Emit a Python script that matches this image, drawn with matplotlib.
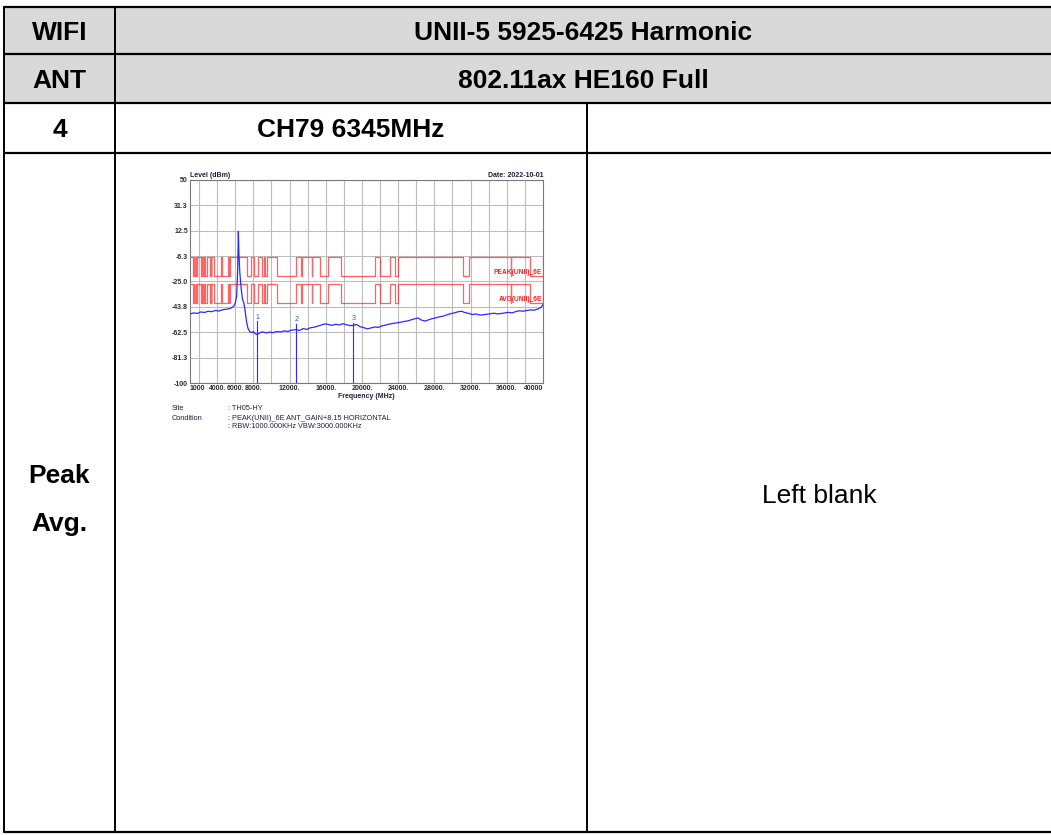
import matplotlib
matplotlib.use("Agg")
import matplotlib.pyplot as plt
from matplotlib.patches import Rectangle

plt.rcParams['font.family'] = ['Liberation Sans', 'DejaVu Sans']

# -----------------------------
# Table text
# -----------------------------
row_labels = ["WIFI", "ANT", "4"]
row_values = ["UNII-5 5925-6425 Harmonic", "802.11ax HE160 Full", "CH79 6345MHz"]
mode_labels = ["Peak", "Avg."]
right_note = "Left blank"

# -----------------------------
# Spectrum data (MHz, dBm)
# -----------------------------
freq = [1000, 1400, 1800, 2200, 2600, 3000, 3400, 3800, 4200, 4600, 5000, 5400,
        5800, 6000, 6150, 6250, 6300, 6345, 6400, 6500, 6650, 6800, 6950, 7100,
        7250, 7400, 7600, 7800, 8000, 8200, 8430, 8700, 9000, 9400, 9800, 10200,
        10600, 11000, 11400, 11800, 12200, 12745, 13100, 13500, 13900, 14300,
        14700, 15100, 15500, 15900, 16300, 16700, 17100, 17500, 17900, 18300,
        18700, 19040, 19400, 19800, 20200, 20600, 21000, 21400, 21800, 22200,
        22600, 23000, 23400, 23800, 24200, 24600, 25000, 25400, 25800, 26200,
        26600, 27000, 27400, 27800, 28200, 28600, 29000, 29400, 29800, 30200,
        30600, 31000, 31400, 31800, 32200, 32600, 33000, 33400, 33800, 34200,
        34600, 35000, 35400, 35800, 36200, 36600, 37000, 37400, 37800, 38200,
        38600, 39000, 39400, 39800, 40000]
level = [-49.0, -48.2, -48.6, -47.5, -47.9, -47.0, -47.3, -46.4, -46.8, -45.9, -45.5, -45.0,
         -43.5, -41.0, -36.0, -20.0, -5.0, 12.0, -4.0, -18.0, -30.0, -38.0, -41.0, -47.0,
         -55.0, -59.5, -62.0, -62.8, -62.0, -63.5, -64.2, -63.0, -62.2, -63.0, -62.4, -62.8,
         -61.9, -62.3, -61.5, -61.9, -61.0, -60.5, -61.2, -59.8, -60.4, -59.2,
         -58.8, -58.0, -57.2, -56.3, -56.8, -57.4, -56.6, -57.1, -56.2, -57.0,
         -57.6, -57.5, -56.8, -58.4, -59.1, -60.0, -59.3, -58.6, -58.9, -57.8,
         -57.2, -56.5, -56.0, -55.6, -55.2, -54.6, -54.2, -53.4, -52.6, -52.0,
         -53.6, -54.2, -53.2, -52.4, -51.8, -51.0, -50.6, -49.6, -48.8, -48.2,
         -47.4, -47.0, -48.0, -48.6, -49.4, -49.0, -49.8, -49.6, -49.2, -48.8,
         -48.4, -49.0, -48.6, -48.2, -47.8, -48.2, -47.2, -46.6, -47.0, -46.4,
         -46.0, -46.2, -45.4, -44.0, -42.0]

marker_freq = [8430, 12745, 19040]
marker_level = [-64.2, -60.5, -57.5]
marker_top = [-54.5, -56.5, -55.5]
marker_names = ["1", "2", "3"]

# restricted bands (MHz) where the limit drops
restricted = [(1300, 1427), (1435, 1626.5), (1645.5, 1646.5), (1660, 1710),
              (1718.8, 1722.2), (2200, 2300), (2310, 2390), (2483.5, 2500),
              (2690, 2900), (3260, 3267), (3332, 3339), (3345.8, 3358),
              (3600, 4400), (4500, 5150), (5350, 5460), (7250, 7750),
              (8025, 8500), (9000, 9200), (9300, 9500), (10600, 12700),
              (13250, 13400), (14470, 14500), (15350, 16200), (17700, 21400),
              (22010, 23120), (23600, 24000), (31200, 31800), (36430, 36500),
              (38600, 40000)]
peak_high, peak_low = -7.0, -21.2
avg_high, avg_low = -27.0, -41.2

yticks = [50, 31.3, 12.5, -6.3, -25.0, -43.8, -62.5, -81.3, -100]
ytick_labels = ["50", "31.3", "12.5", "-6.3", "-25.0", "-43.8", "-62.5", "-81.3", "-100"]
xticks = [1000, 4000, 6000, 8000, 12000, 16000, 20000, 24000, 28000, 32000, 36000, 40000]
xtick_labels = ["1000", "4000.", "6000.", "8000.", "12000.", "16000.", "20000.",
                "24000.", "28000.", "32000.", "36000.", "40000"]

# -----------------------------
# Figure / table
# -----------------------------
W, H = 1051, 835
fig = plt.figure(figsize=(W / 100, H / 100), dpi=100)
ax = fig.add_axes([0, 0, 1, 1])
ax.set_xlim(0, W)
ax.set_ylim(H, 0)
ax.axis("off")

x_left, x_c1, x_c2, x_right = 4, 115, 587, W
rows = [7, 54, 103, 153, 832]

ax.add_patch(Rectangle((x_left, rows[0]), x_right - x_left, rows[2] - rows[0],
                       facecolor="#d9d9d9", edgecolor="none", zorder=0))
for y in rows:
    ax.plot([x_left, x_right], [y, y], color="black", lw=1.6, solid_capstyle="butt")
ax.plot([x_left, x_left], [rows[0], rows[-1]], color="black", lw=1.4)
ax.plot([x_c1, x_c1], [rows[0], rows[-1]], color="black", lw=1.4)
ax.plot([x_c2, x_c2], [rows[2], rows[-1]], color="black", lw=1.4)

fs = 19
for i in range(3):
    yc = (rows[i] + rows[i + 1]) / 2 + 2
    ax.text((x_left + x_c1) / 2, yc, row_labels[i], ha="center", va="center",
            fontsize=fs, fontweight="bold")
    xr = x_right if i < 2 else x_c2
    ax.text((x_c1 + xr) / 2, yc, row_values[i], ha="center", va="center",
            fontsize=fs, fontweight="bold")

ax.text((x_left + x_c1) / 2, 476, mode_labels[0], ha="center", va="center",
        fontsize=fs, fontweight="bold")
ax.text((x_left + x_c1) / 2, 524, mode_labels[1], ha="center", va="center",
        fontsize=fs, fontweight="bold")
ax.text((x_c2 + x_right) / 2, 496, right_note, ha="center", va="center", fontsize=fs)

# -----------------------------
# Spectrum plot
# -----------------------------
pl, pr, pt, pb = 190, 543, 180, 383
sp = fig.add_axes([pl / W, 1 - pb / H, (pr - pl) / W, (pb - pt) / H])
sp.set_xlim(1000, 40000)
sp.set_ylim(-100, 50)

for g in range(2000, 40000, 2000):
    sp.axvline(g, color="#bdbdbd", lw=0.8, zorder=0)
for t in yticks:
    sp.axhline(t, color="#bdbdbd", lw=0.8, zorder=0)

# limit lines
def limit_steps(high, low):
    xs, ys = [1000], [high]
    for a, b in restricted:
        xs += [a, a, b, b]
        ys += [high, low, low, high]
    xs.append(40000)
    ys.append(high)
    return xs, ys

px, py = limit_steps(peak_high, peak_low)
axx, ayy = limit_steps(avg_high, avg_low)
sp.plot(px, py, color="#ff2020", lw=0.9, alpha=0.7, zorder=2)
sp.plot(axx, ayy, color="#ff2020", lw=0.9, alpha=0.7, zorder=2)
sp.text(39900, -18.0, "PEAK(UNII)_6E", color="#ff2020", fontsize=4.8,
        fontweight="bold", ha="right", va="center")
sp.text(39900, -38.0, "AVG(UNII)_6E", color="#ff2020", fontsize=4.8,
        fontweight="bold", ha="right", va="center")

sp.plot(freq, level, color="#2a2aff", lw=0.9, zorder=3)
for mf, ml, mt, mn in zip(marker_freq, marker_level, marker_top, marker_names):
    sp.plot([mf, mf], [-100, mt], color="#2a2aff", lw=0.8, zorder=3)
    sp.text(mf, mt + 0.5, mn, color="#4040ff", fontsize=5, ha="center", va="bottom")

sp.set_yticks(yticks)
sp.set_yticklabels(ytick_labels)
sp.set_xticks(xticks)
sp.set_xticklabels(xtick_labels)
sp.tick_params(length=0, pad=1.5, labelsize=5, labelcolor="#2b2b2b")
for lab in sp.get_xticklabels() + sp.get_yticklabels():
    lab.set_fontweight("bold")
xl = sp.get_xticklabels()
xl[0].set_horizontalalignment("left")
xl[-1].set_horizontalalignment("right")
sp.set_xlabel("Frequency (MHz)", fontsize=5, fontweight="bold", labelpad=0.5,
              color="#202040")
for s in sp.spines.values():
    s.set_color("#7a7a7a")
    s.set_linewidth(0.8)

ax.text(pl, pt - 1, "Level (dBm)", fontsize=5, fontweight="bold",
        color="#202040", ha="left", va="bottom")
ax.text(pr, pt - 1, "Date: 2022-10-01", fontsize=5, fontweight="bold",
        color="#202040", ha="right", va="bottom")

info_left = ["Site", "Condition", ""]
info_right = [": TH05-HY", ": PEAK(UNII)_6E ANT_GAIN+8.15 HORIZONTAL",
              ": RBW:1000.000KHz VBW:3000.000KHz"]
for k in range(3):
    yk = 409 + k * 9
    ax.text(172, yk, info_left[k], fontsize=5.3, color="#202040", va="center")
    ax.text(228, yk, info_right[k], fontsize=5.3, color="#202040", va="center")

fig.savefig("out.png", dpi=100)
